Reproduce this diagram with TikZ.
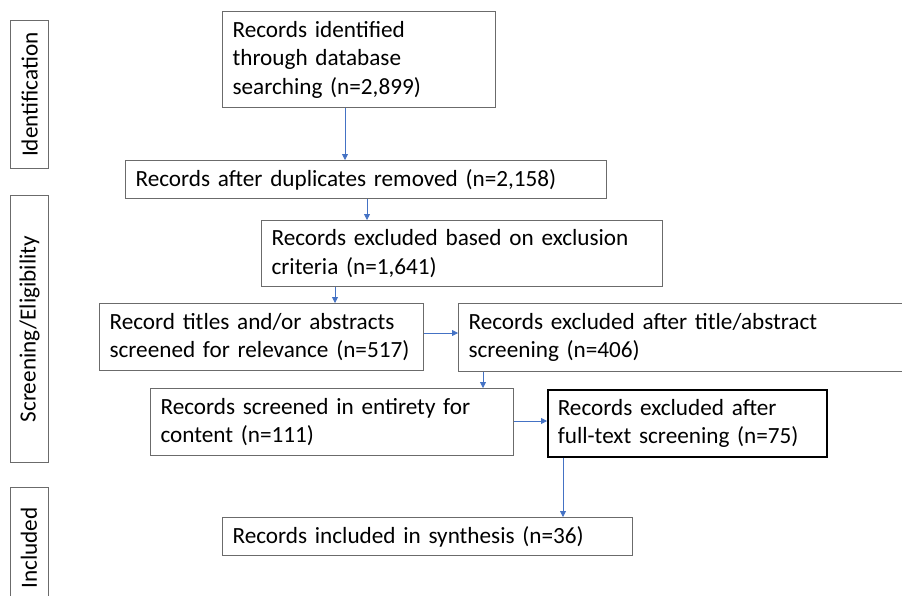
\documentclass[tikz,border=0pt]{standalone}
\usepackage{fontspec}
\setmainfont{Carlito}
\usetikzlibrary{arrows.meta}
\definecolor{boxgray}{HTML}{6B6B6B}
\definecolor{arrowblue}{HTML}{4472C4}
\begin{document}
\begin{tikzpicture}[x=1pt,y=-1pt,
  every node/.style={font=\fontsize{23.2}{28.5}\selectfont},
  flowbox/.style={draw=boxgray,line width=1.1pt,anchor=north west,align=left,inner xsep=10pt,inner ysep=0pt},
  stagebox/.style={draw=boxgray,line width=1.1pt,anchor=north west,minimum width=38pt,inner sep=0pt},
  conn/.style={draw=arrowblue,line width=0.8pt,-{Triangle[width=6pt,length=6pt]}}]
\useasboundingbox (0,0) rectangle (902,595);
\begin{scope}
\clip (0,0) rectangle (902,595);
% stage boxes
\node[stagebox,minimum height=148pt] (sid) at (10,20) {};
\node[rotate=90] (tid) at (sid.center) {Identification};
\node[stagebox,minimum height=267pt] (sse) at (10,195) {};
\node[rotate=90] (tse) at (sse.center) {Screening/Eligibility};
\node[stagebox,minimum height=120pt] (sin) at (10,487) {};
\node[rotate=90] (tin) at (29,548) {Included};
% flow boxes
\node[flowbox,minimum width=273pt,minimum height=96pt,text width=253pt] (b1) at (222,11) {Records identified\\through database\\searching (n=2,899)};
\node[flowbox,minimum width=481pt,minimum height=38pt,text width=461pt] (b2) at (125,160) {Records after duplicates removed (n=2,158)};
\node[flowbox,minimum width=401pt,minimum height=66pt,text width=381pt] (b3) at (261,220) {Records excluded based on exclusion\\criteria (n=1,641)};
\node[flowbox,minimum width=324pt,minimum height=67pt,text width=304pt] (b4) at (99,303) {Record titles and/or abstracts\\screened for relevance (n=517)};
\node[flowbox,minimum width=444pt,minimum height=68pt,text width=424pt] (b5) at (458,303) {Records excluded after title/abstract\\screening (n=406)};
\node[flowbox,minimum width=363pt,minimum height=67pt,text width=343pt] (b6) at (150,388) {Records screened in entirety for\\content (n=111)};
\node[flowbox,draw=black,line width=1.5pt,minimum width=279pt,minimum height=67pt,text width=259pt] (b7) at (547,389) {Records excluded after\\full-text screening (n=75)};
\node[flowbox,minimum width=410pt,minimum height=38pt,text width=390pt] (b8) at (222,517) {Records included in synthesis (n=36)};
\end{scope}
% connectors
\draw[conn] (b1.south -| 345,0) -- (b2.north -| 345,0);
\draw[conn] (b2.south -| 367,0) -- (b3.north -| 367,0);
\draw[conn] (b3.south -| 335,0) -- (b4.north -| 335,0);
\draw[conn] (b4.east |- 0,333) -- (b5.west |- 0,333);
\draw[conn] (b5.south -| 483,0) -- (b6.north -| 483,0);
\draw[conn] (b6.east |- 0,421) -- (b7.west |- 0,421);
\draw[conn] (b7.south -| 563,0) -- (b8.north -| 563,0);
\end{tikzpicture}
\end{document}
